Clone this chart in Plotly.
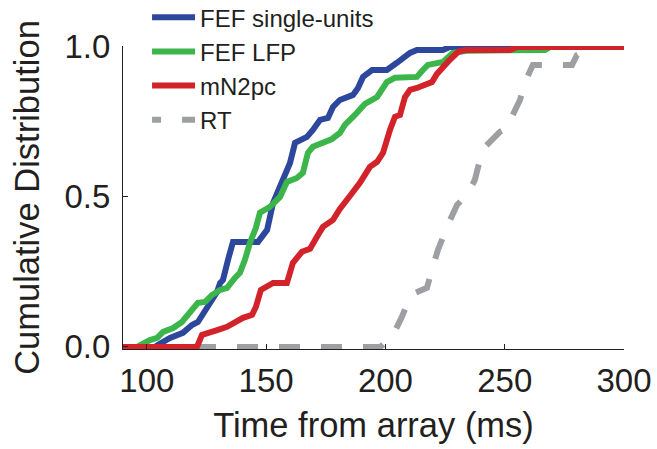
import plotly.graph_objects as go

# FEF single-units
su_x = [90, 103.4, 104.7, 109.7, 115.1, 118.9, 121.4, 124.4, 126.5, 129.4, 130.7, 131.9, 134.0, 136.1,
        146.6, 150.4, 152.9, 155.8, 157.1, 160.0, 162.1, 164.2, 167.1, 169.6, 172.6, 175.9, 178.0,
        180.9, 183.9, 186.4, 188.5, 190.6, 194.4, 200.6, 204.8, 207.4, 210.3, 213.2, 224.1, 227.0, 300]
su_y = [0, 0, 0.007, 0.03, 0.047, 0.073, 0.083, 0.123, 0.15, 0.183, 0.213, 0.223, 0.29, 0.35,
        0.35, 0.39, 0.48, 0.533, 0.563, 0.613, 0.68, 0.69, 0.70, 0.723, 0.757, 0.763, 0.80,
        0.823, 0.83, 0.84, 0.863, 0.90, 0.923, 0.923, 0.947, 0.963, 0.98, 0.99, 0.99, 1.0, 1.0]

# FEF LFP
lfp_x = [90, 95.9, 101.3, 104.3, 106.8, 111.0, 114.7, 118.1, 121.4, 124.4, 127.3, 130.7, 133.6, 136.9,
         139.0, 141.1, 143.2, 145.7, 147.4, 151.6, 155.8, 158.7, 162.9, 165.4, 167.5, 169.6, 173.8,
         177.6, 180.9, 183.0, 187.2, 191.4, 196.5, 200.6, 204.0, 213.2, 215.7, 217.8, 224.1, 228.3,
         234.2, 266.9, 269.0, 300]
lfp_y = [0, 0, 0.023, 0.03, 0.05, 0.063, 0.083, 0.113, 0.147, 0.15, 0.173, 0.19, 0.197, 0.23,
         0.247, 0.29, 0.347, 0.397, 0.447, 0.467, 0.5, 0.55, 0.563, 0.58, 0.647, 0.667, 0.68,
         0.693, 0.713, 0.74, 0.773, 0.81, 0.833, 0.883, 0.897, 0.9, 0.923, 0.94, 0.95, 0.98,
         0.987, 0.99, 1.0, 1.0]

# mN2pc
n2_x = [90, 121.0, 123.1, 126.5, 129.8, 133.6, 136.9, 140.3, 144.1, 145.7, 147.8, 150.8, 152.9, 158.7,
        161.2, 165.0, 168.4, 171.3, 173.8, 178.0, 180.9, 185.1, 189.3, 193.5, 196.5, 199.0, 200.6,
        201.9, 204.0, 206.1, 208.2, 210.3, 213.2, 215.7, 219.5, 221.6, 224.1, 227.0, 230.4, 233.3,
        252.2, 255.1, 300]
n2_y = [0, 0, 0.04, 0.047, 0.057, 0.067, 0.083, 0.097, 0.107, 0.133, 0.19, 0.207, 0.213, 0.213,
        0.28, 0.317, 0.327, 0.367, 0.40, 0.423, 0.46, 0.503, 0.547, 0.60, 0.617, 0.647, 0.70,
        0.723, 0.767, 0.773, 0.833, 0.857, 0.863, 0.873, 0.883, 0.91, 0.933, 0.957, 0.983, 0.99,
        0.99, 1.0, 1.0]

# RT
rt_x = [90, 197.7, 199.0, 203.2, 206.9, 210.3, 212.4, 217.4, 219.5, 222.0, 226.2, 230.0, 234.2, 237.5,
        239.6, 241.7, 248.0, 251.4, 253.0, 256.4, 258.9, 261.8, 278.2, 280.3, 282.8, 284.9, 300]
rt_y = [0, 0, 0.007, 0.04, 0.10, 0.167, 0.18, 0.197, 0.257, 0.323, 0.407, 0.473, 0.507, 0.557,
        0.623, 0.667, 0.717, 0.73, 0.767, 0.823, 0.89, 0.94, 0.94, 0.973, 0.983, 1.0, 1.0]

x_ticks = [100, 150, 200, 250, 300]
y_ticks = [0, 0.5, 1.0]

FONT = "Liberation Sans"
TXT = "#231f20"

fig = go.Figure()
fig.add_trace(go.Scatter(x=rt_x, y=rt_y, mode="lines", name="RT", legendrank=4,
                         line=dict(color="#9d9fa2", width=6, dash="9px,21px,12px,0px"), cliponaxis=False))
fig.add_trace(go.Scatter(x=su_x, y=su_y, mode="lines", name="FEF single-units", legendrank=1,
                         line=dict(color="#2d479c", width=6), cliponaxis=False))
fig.add_trace(go.Scatter(x=lfp_x, y=lfp_y, mode="lines", name="FEF LFP", legendrank=2,
                         line=dict(color="#3cb54a", width=6), cliponaxis=False))
fig.add_trace(go.Scatter(x=n2_x, y=n2_y, mode="lines", name="mN2pc", legendrank=3,
                         line=dict(color="#d2232a", width=6), cliponaxis=False))

fig.update_layout(
    width=657, height=449,
    margin=dict(l=123, r=33, t=46, b=100, autoexpand=False),
    paper_bgcolor="white", plot_bgcolor="white",
    font=dict(family=FONT, color=TXT, size=33),
    legend=dict(x=0.048, y=1.168, xanchor="left", yanchor="top",
                font=dict(size=24, family=FONT, color=TXT),
                bgcolor="rgba(0,0,0,0)", itemwidth=43, tracegroupgap=0),
    xaxis=dict(range=[90, 300], tickvals=x_ticks, ticks="inside", ticklen=5, tickcolor=TXT,
               showline=True, linecolor=TXT, linewidth=1.2, showgrid=False, zeroline=False,
               automargin=False, ticklabelstandoff=2,
               title=dict(text="Time from array (ms)", standoff=15, font=dict(family=FONT, size=34.5)),
               tickfont=dict(size=33, family=FONT)),
    yaxis=dict(range=[-0.007, 1.003], tickvals=y_ticks, tickformat=".1f", ticks="inside", ticklen=5,
               tickcolor=TXT, showline=True, linecolor=TXT, linewidth=1.2, showgrid=False,
               zeroline=False, automargin=False, ticklabelstandoff=5,
               title=dict(text="Cumulative Distribution", standoff=14, font=dict(family=FONT, size=34.5)),
               tickfont=dict(size=33, family=FONT)),
)

fig.write_html("out.html", config={"displayModeBar": False},
               post_script="document.body.style.margin='0';")
